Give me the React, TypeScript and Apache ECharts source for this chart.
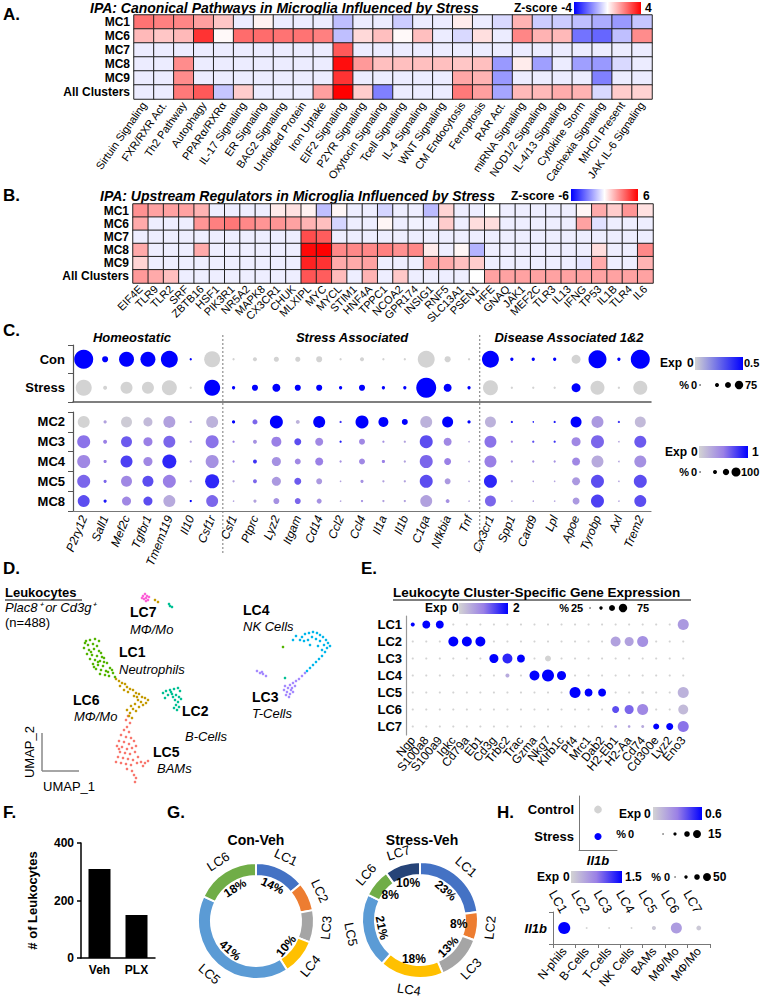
import React, { useEffect, useRef } from "react";
import * as echarts from "echarts";

const FF = 'Arial, "Liberation Sans", Helvetica, sans-serif';

// ---------------- Panel A : IPA canonical pathways (z-score) ----------------
const A_ROWS = ["MC1", "MC6", "MC7", "MC8", "MC9", "All Clusters"];
const A_PATHWAYS = [
  "Sirtuin Signaling", "FXR/RXR Act.", "Th2 Pathway", "Autophagy", "PPARα/RXRα", "IL-17 Signaling",
  "ER Signaling", "BAG2 Signaling", "Unfolded Protein", "Iron Uptake", "EIF2 Signaling", "P2YR Signaling",
  "Oxytocin Signaling", "Tcell Signaling", "IL-4 Signaling", "WNT Signaling", "CM Endocytosis", "Ferroptosis",
  "RAR Act.", "miRNA Signaling", "NOD1/2 Signaling", "IL-4/13 Signaling", "Cytokine Storm", "Cachexia Signaling",
  "MHCII Present", "JAK IL-6 Signaling",
];
const A_MC1 = [2.2, 2.0, 1.9, 1.5, 0.9, -0.3, 0.2, -0.3, -0.3, -0.3, -1.0, -0.3, -0.3, -0.8, -0.3, -0.3, 0.3, -0.3, -0.6, 1.2, -0.8, -0.8, -1.0, -1.3, -1.6, -0.9];
const A_MC6 = [1.1, 0.9, 1.1, 3.2, 0.1, 2.3, 2.3, 2.2, 2.2, 2.0, -1.0, 0.6, 1.0, 0.1, 1.0, -0.3, -0.6, 0.5, -0.3, 1.9, 1.2, 1.1, -2.2, -2.4, -1.0, 1.8];
const A_MC7 = [-0.3, -0.3, -0.3, -0.3, -0.3, -0.3, -0.3, -0.3, -0.3, -0.3, 2.6, -0.3, -0.3, -0.3, -0.3, -0.3, -0.3, -0.3, -0.3, -0.3, -0.3, -0.3, -0.3, -0.3, -0.3, -0.3];
const A_MC8 = [-0.3, -0.3, 1.8, -0.3, -0.3, -0.3, -0.3, -0.3, -0.3, -0.3, 3.8, 1.6, 1.0, 1.0, 1.0, 1.0, 0.9, 1.0, -1.6, 0.3, -1.5, -0.3, -1.5, -1.6, -0.6, -0.3];
const A_MC9 = [-0.3, -0.3, 1.8, -0.3, -0.3, -0.3, -0.3, -0.3, -0.3, -0.3, 3.2, -0.3, -0.3, -0.3, -0.3, -0.3, 1.4, 1.2, -1.6, -0.3, -0.3, -0.3, -0.3, -2.0, -0.3, -0.3];
const A_ALL = [-0.3, -0.3, 2.1, 2.6, -0.9, 0.8, -0.3, -0.3, -0.3, 1.5, 4.0, 0.8, -2.0, -0.3, -0.3, -0.3, 2.1, 1.5, -1.4, 1.1, 1.1, 1.3, 1.2, -0.6, 0.8, 0.7];

// ---------------- Panel B : IPA upstream regulators (z-score) ----------------
const B_ROWS = ["MC1", "MC6", "MC7", "MC8", "MC9", "All Clusters"];
const B_REGULATORS = [
  "EIF4E", "TLR9", "TLR2", "SRF", "ZBTB16", "HSF1", "PIK3R1", "NR5A2", "MAPK8", "CX3CR1", "CHUK", "MLXIPL",
  "MYC", "MYCL", "STIM1", "HNF4A", "TPPC1", "NCOA2", "GPR174", "INSIG1", "RNF5", "SLC13A1", "PSEN1", "HFE",
  "GNAQ", "JAK1", "MEF2C", "TLR3", "IL13", "IFNG", "TP53", "IL1B", "TLR4", "IL6",
];
const B_MC1 = [2.6, 2.2, 2.2, 2.2, 1.8, -0.4, -0.4, -0.4, -0.4, 0.5, 0.7, 0.3, -1.5, 0.2, -0.4, -0.4, -1.0, -0.4, -0.4, -1.6, 1.0, -0.4, -0.4, 0, -0.4, -0.4, -0.4, -0.4, -0.4, 0.2, 2.0, 1.2, 2.5, 0.7];
const B_MC6 = [2.0, -0.4, -0.4, -0.4, 2.5, 3.0, 3.2, 2.8, 2.5, 2.5, 2.2, 1.8, 1.5, -1.0, -0.4, -0.4, 0.2, -0.4, -0.3, -0.4, 1.2, -0.4, 0.8, 0.8, -0.4, -0.4, -0.4, -0.4, -0.4, 2.2, -0.7, -0.4, -0.4, -0.4];
const B_MC7 = [-0.4, -0.4, -0.4, -0.4, -0.4, -0.4, -0.4, -0.4, -0.4, -0.4, -0.4, 4.2, 3.8, -0.4, -0.4, -0.4, -0.4, -0.4, -0.4, -0.4, -0.4, -0.4, -0.4, -0.4, -0.4, -0.4, -0.4, -0.4, -0.4, -0.4, -0.4, -0.4, -0.4, -0.4];
const B_MC8 = [2.0, -0.4, -0.4, -0.4, 2.0, -0.4, -0.4, -0.4, -0.4, -0.4, -0.4, 5.8, 6.0, 2.8, 2.8, 2.8, 3.0, 2.6, 2.8, 0.5, -0.4, 0.2, -1.8, -0.4, -0.4, -0.4, -0.4, -0.4, -0.4, -0.4, 0.8, -0.4, -0.4, 2.8];
const B_MC9 = [1.0, -0.4, -0.4, -0.4, -0.4, -0.4, -0.4, -0.4, -0.4, -0.4, -0.4, 5.2, 4.8, 2.0, 2.0, 2.2, -0.4, -0.4, -0.4, 2.2, 2.0, 1.5, 1.2, -0.4, -0.4, -0.4, -0.4, -0.4, -0.4, -0.6, 2.0, -0.4, -0.4, 1.8];
const B_ALL = [2.4, 2.0, 1.5, -0.4, -0.4, -0.4, -0.4, -0.4, -0.4, -0.4, -0.4, 4.0, 3.8, 1.6, -0.4, 1.8, -0.4, 1.3, -0.4, -0.4, -0.4, -0.4, 0, 2.2, 2.2, 2.2, 2.2, 2.2, 2.2, 2.2, 2.2, 2.2, 2.2, 2.2];

// ---------------- Panel C : microglia dot plot ----------------
const C_GENES = [
  "P2ry12", "Sall1", "Mef2c", "Tgfbr1", "Tmem119", "Il10", "Csf1r", "Csf1", "Ptprc", "Lyz2", "Itgam", "Cd14", "Ccl2",
  "Ccl4", "Il1a", "Il1b", "C1qa", "Nfkbia", "Tnf", "Cx3cr1", "Spp1", "Card9", "Lpl", "Apoe", "Tyrobp", "Axl", "Trem2",
];
const C_GROUPS = ["Con", "Stress"];
const C_CON_PCT = [68, 7, 42, 42, 54, 1, 48, 1, 3, 5, 5, 7, 1, 3, 1, 1, 54, 7, 1, 54, 2, 2, 2, 15, 61, 2, 68];
const C_CON_EXP = [0.5, 0.5, 0.5, 0.5, 0.5, 0.5, 0, 0, 0, 0, 0, 0, 0, 0, 0, 0, 0, 0, 0, 0.5, 0.5, 0.5, 0.5, 0, 0.5, 0.5, 0.5];
const C_STRESS_PCT = [48, 3, 27, 27, 42, 1, 48, 2, 7, 12, 7, 7, 2, 7, 2, 2, 75, 12, 2, 42, 1, 1, 1, 15, 37, 1, 37];
const C_STRESS_EXP = [0, 0, 0, 0, 0, 0, 0.5, 0.5, 0.5, 0.5, 0.5, 0.5, 0.5, 0.5, 0.5, 0.5, 0.5, 0.5, 0.5, 0, 0, 0, 0, 0.5, 0, 0, 0];
const C_CLUSTERS = ["MC2", "MC3", "MC4", "MC5", "MC8"];
const C_MC2_PCT = [56, 4, 47, 32, 56, 2, 56, 4, 10, 66, 6, 56, 2, 66, 39, 14, 56, 47, 4, 47, 2, 1, 2, 47, 56, 2, 47];
const C_MC2_EXP = [0, 0.3, 0.05, 0.15, 0.3, 0.3, 0.2, 1, 0.6, 1, 0.2, 1, 0.8, 1, 1, 1, 0.2, 1, 1, 0.2, 0.9, 0.9, 0.9, 1, 0.35, 0.8, 0.15];
const C_MC3_PCT = [66, 6, 47, 32, 56, 2, 66, 2, 6, 39, 19, 25, 2, 14, 2, 2, 66, 25, 1, 56, 2, 2, 2, 32, 66, 1, 56];
const C_MC3_EXP = [0.55, 0.5, 0.65, 0.5, 0.6, 0.3, 0.55, 0.5, 0.4, 0.5, 0.7, 0.45, 0.9, 0.45, 0.4, 0.3, 0.7, 0.45, 0.3, 0.55, 0.5, 0.7, 0.8, 0.45, 0.6, 0.3, 0.65];
const C_MC4_PCT = [66, 4, 56, 32, 77, 2, 66, 2, 6, 32, 14, 25, 2, 14, 4, 2, 66, 19, 1, 56, 2, 2, 2, 25, 56, 1, 56];
const C_MC4_EXP = [0.45, 0.5, 0.75, 0.45, 0.85, 0.3, 0.4, 0.5, 0.8, 0.4, 0.45, 0.5, 0.4, 0.45, 0.5, 0.3, 0.6, 0.5, 0.3, 0.5, 0.4, 0.4, 0.4, 0.45, 0.25, 0.3, 0.4];
const C_MC5_PCT = [66, 4, 47, 47, 66, 2, 77, 2, 6, 32, 19, 14, 1, 4, 2, 2, 66, 14, 1, 66, 2, 1, 1, 25, 66, 1, 66];
const C_MC5_EXP = [0.6, 0.6, 0.45, 0.7, 0.5, 0.3, 0.85, 0.3, 0.6, 0.35, 0.65, 0.35, 0.3, 0.4, 0.3, 0.3, 0.7, 0.35, 0.3, 0.85, 0.3, 0.3, 0.3, 0.35, 0.7, 0.3, 0.7];
const C_MC8_PCT = [56, 4, 32, 32, 56, 2, 56, 1, 4, 14, 14, 10, 1, 2, 2, 2, 56, 6, 1, 47, 1, 1, 1, 19, 66, 1, 56];
const C_MC8_EXP = [0.7, 0.9, 0.45, 0.7, 0.25, 1, 0.6, 0.3, 0.3, 0.4, 0.6, 0.4, 0.3, 0.4, 0.3, 0.3, 0.3, 0.4, 0.3, 0.6, 0.3, 0.3, 0.3, 0.35, 0.75, 0.3, 0.7];

// ---------------- Panel D : UMAP (UMAP_1, UMAP_2) ----------------
const D_LC1 = [[8.6,15.4],[9.0,15.5],[9.5,15.6],[9.9,15.4],[8.8,15.0],[9.3,15.1],[9.7,14.9],[8.4,14.7],[8.9,14.5],[9.4,14.6],[9.9,14.4],[8.7,14.1],[9.2,14.0],[9.7,13.9],[10.1,14.2],[9.0,13.6],[9.5,13.5],[10.0,13.4],[10.4,13.7],[9.3,13.1],[9.8,13.0],[10.3,12.9],[10.7,13.2],[9.6,12.6],[10.1,12.5],[10.6,12.4],[11.0,12.7],[10.0,12.1],[10.5,12.0],[10.9,11.9],[11.3,12.2],[11.5,11.8],[8.5,15.2],[9.1,14.3],[10.2,13.8],[10.8,12.3],[11.2,12.5],[9.8,13.3],[9.4,12.8],[10.4,13.3],[28.3,14.8]];
const D_LC2 = [[16.3,10.2],[16.6,10.4],[17.0,10.5],[17.4,10.6],[17.8,10.7],[18.0,10.4],[16.8,10.0],[17.2,10.1],[17.6,10.0],[17.9,9.8],[16.5,9.7],[17.5,9.5],[17.8,9.3],[17.6,9.0],[17.9,8.8],[17.4,8.7],[17.7,8.5],[17.1,10.3],[18.1,9.6],[17.3,9.8],[17.0,18.9],[17.2,18.8],[16.9,19.1],[28.5,11.7]];
const D_LC3 = [[30.5,12.2],[30.2,11.9],[29.9,11.6],[29.6,11.4],[29.3,11.2],[29.0,11.0],[28.5,10.9],[28.8,10.7],[29.1,10.5],[28.7,10.3],[29.0,10.1],[29.3,10.3],[28.6,10.0],[28.9,9.8],[29.2,10.7],[29.5,10.9],[28.4,10.5],[25.7,12.4],[26.0,12.2],[26.3,12.1],[26.6,11.9],[26.2,12.3]];
const D_LC4 = [[30.2,15.8],[30.5,16.1],[30.9,16.2],[31.3,16.3],[31.7,16.2],[32.0,16.0],[32.3,15.8],[32.6,15.5],[32.8,15.2],[33.0,14.9],[32.7,14.7],[32.4,15.0],[32.0,15.4],[31.6,15.6],[31.2,15.8],[30.8,15.5],[30.4,15.4],[30.0,15.5],[31.0,15.0],[31.8,14.9],[32.2,14.5],[32.5,14.3],[32.2,13.9],[31.9,13.6],[31.6,13.3],[31.3,13.0],[31.0,12.7],[30.7,12.4],[29.3,15.5],[29.6,15.9]];
const D_LC5 = [[12.8,7.9],[12.6,7.5],[13.0,7.2],[12.7,6.8],[12.4,6.5],[12.9,6.3],[12.1,6.0],[12.6,5.8],[13.1,5.7],[11.9,5.4],[12.4,5.3],[12.9,5.1],[13.4,5.4],[11.7,4.9],[12.2,4.8],[12.7,4.6],[13.2,4.7],[13.6,4.9],[12.0,4.3],[12.5,4.2],[13.0,4.1],[13.5,4.3],[11.8,3.8],[12.3,3.7],[12.8,3.6],[13.3,3.5],[13.8,3.8],[11.6,3.3],[12.1,3.2],[12.6,3.1],[13.1,3.0],[14.1,3.3],[14.5,3.2],[14.8,3.4],[14.3,2.9],[12.7,2.6],[13.2,2.4],[13.4,2.0],[13.6,1.7],[13.5,1.3],[11.9,4.6],[13.7,3.2]];
const D_LC6 = [[11.6,11.6],[11.9,11.4],[12.2,11.2],[12.5,11.1],[12.0,10.9],[12.7,10.8],[13.0,10.6],[13.3,10.5],[12.8,10.3],[13.6,10.2],[13.9,10.1],[13.4,9.9],[14.2,9.8],[14.5,9.7],[14.8,9.5],[13.8,9.5],[14.1,9.3],[14.6,9.2],[13.5,9.1],[13.1,8.9],[13.9,8.8],[13.3,8.6],[13.6,8.4],[13.0,8.2],[12.9,7.9],[13.2,7.7],[12.4,10.5],[13.7,9.8],[14.3,9.0],[12.7,8.5],[15.5,19.5],[15.8,19.3]];
const D_LC7 = [[14.3,19.9],[14.5,20.1],[14.7,19.9],[14.4,19.6],[14.6,19.7],[14.8,19.5],[14.2,19.7],[14.9,19.8],[14.6,19.4]];

// ---------------- Panel E : leukocyte dot plot ----------------
const E_GENES = ["Ngp", "S100a8", "S100a9", "Igkc", "Cd79a", "Eb1", "Cd3g", "Trbc2", "Trac", "Gzma", "Nkg7", "Klrb1c", "Pf4", "Mrc1", "Dab2", "H2-Eb1", "H2-Aa", "Cd74", "Cd300e", "Lyz2", "Eno3"];
const E_CLUSTERS = ["LC1", "LC2", "LC3", "LC4", "LC5", "LC6", "LC7"];
const E_LC1_PCT = [7, 28, 28, 2, 2, 2, 2, 2, 2, 2, 2, 2, 2, 2, 2, 2, 2, 2, 2, 2, 54];
const E_LC1_EXP = [2, 2, 2, 0, 0, 0, 0, 0, 0, 0, 0, 0, 0, 0, 0, 0, 0, 0, 0, 0, 0.7];
const E_LC2_PCT = [2, 2, 2, 44, 44, 44, 2, 2, 2, 2, 2, 2, 2, 2, 2, 44, 36, 54, 2, 2, 2];
const E_LC2_EXP = [0, 0, 0, 2, 2, 2, 0, 0, 0, 0, 0, 0, 0, 0, 0, 0.6, 0.6, 0.8, 0, 0, 0];
const E_LC3_PCT = [2, 2, 2, 2, 2, 2, 36, 44, 28, 2, 16, 2, 2, 2, 2, 2, 2, 2, 2, 2, 2];
const E_LC3_EXP = [0, 0, 0, 0, 0, 0, 2, 1.7, 2, 0, 0, 0, 0, 0, 0, 0, 0, 0, 0, 0, 0];
const E_LC4_PCT = [2, 2, 2, 2, 2, 2, 2, 7, 2, 44, 64, 36, 2, 2, 2, 2, 2, 2, 2, 2, 2];
const E_LC4_EXP = [0, 0, 0, 0, 0, 0, 0, 0.5, 0, 2, 2, 2, 0, 0, 0, 0, 0, 0, 0, 0, 0];
const E_LC5_PCT = [2, 2, 2, 2, 2, 2, 2, 2, 2, 2, 2, 2, 54, 28, 28, 2, 2, 3, 2, 2, 54];
const E_LC5_EXP = [0, 0, 0, 0, 0, 0, 0, 0, 0, 0, 0, 0, 2, 2, 2, 0, 0, 0, 0, 0, 0.4];
const E_LC6_PCT = [2, 2, 2, 2, 2, 2, 2, 2, 2, 2, 2, 2, 2, 2, 2, 22, 36, 54, 2, 2, 44];
const E_LC6_EXP = [0, 0, 0, 0, 0, 0, 0, 0, 0, 0, 0, 0, 0, 0, 0, 1.4, 1.2, 0.9, 0, 0, 0.3];
const E_LC7_PCT = [2, 2, 2, 2, 2, 2, 2, 2, 2, 2, 2, 2, 2, 2, 2, 3, 3, 4, 16, 22, 54];
const E_LC7_EXP = [0, 0, 0, 0, 0, 0, 0, 0, 0, 0, 0, 0, 0, 0, 0, 0.6, 0.6, 0.5, 2, 2, 1.1];

// ---------------- Panel F : leukocyte counts ----------------
const F_GROUPS = ["Veh", "PLX"];
const F_COUNTS = [310, 150];

// ---------------- Panel G : cluster composition (%) ----------------
const G_CLUSTERS = ["LC1", "LC2", "LC3", "LC4", "LC5", "LC6", "LC7"];
const G_COLORS = ["#4472C4", "#ED7D31", "#A5A5A5", "#FFC000", "#5B9BD5", "#70AD47", "#264478"];
const G_CON = [14, 8, 9, 10, 41, 18, 0];
const G_CON_LABELS = ["14%", "", "", "10%", "41%", "18%", ""];
const G_STRESS = [23, 8, 13, 18, 21, 8, 10];
const G_STRESS_LABELS = ["23%", "8%", "13%", "18%", "21%", "8%", "10%"];

// ---------------- Panel H : Il1b ----------------
const H_GROUPS = ["Control", "Stress"];
const H_GROUP_PCT = [14, 12];
const H_GROUP_EXP = [0, 0.6];
const H_CLUSTERS = ["LC1", "LC2", "LC3", "LC4", "LC5", "LC6", "LC7"];
const H_CELLTYPES = ["N-phils", "B-Cells", "T-Cells", "NK Cells", "BAMs", "MΦ/Mo", "MΦ/Mo"];
const H_CL_PCT = [43, 1, 1, 1, 5, 36, 7];
const H_CL_EXP = [1.5, 0, 0, 0, 0.1, 0.5, 0.1];

// ---------------------------------------------------------------------------
const DOT_STOPS = ["#d3d3d3", "#9a80e6", "#0000ff"];
const dotColor = (v: number, max: number) =>
  echarts.color.lerp(Math.max(0, Math.min(1, v / max)), DOT_STOPS) as string;

const heatData = (rows: number[][]) => rows.flatMap((r, yi) => r.map((v, xi) => [xi, yi, v]));
const dotData = (rows: { pct: number[]; exp: number[] }[]) =>
  rows.flatMap((r, yi) => r.pct.map((p, xi) => [xi, yi, r.exp[xi], p]));

function txt(x: number, y: number, text: string, font: string, align = "left", rotation = 0, fill = "#000") {
  return {
    type: "text", x, y, rotation, silent: true,
    style: { text, font, fill, textAlign: align, textVerticalAlign: "middle", align, verticalAlign: "middle" },
  };
}
const f = (s: string) => `${s} ${FF}`;
const gradRect = (x: number, y: number, w: number, h: number, stops: string[]) => ({
  type: "rect", silent: true, shape: { x, y, width: w, height: h },
  style: {
    fill: new echarts.graphic.LinearGradient(0, 0, 1, 0, stops.map((c, i) => ({ offset: i / (stops.length - 1), color: c }))),
  },
});
const dot = (cx: number, cy: number, r: number) => ({ type: "circle", silent: true, shape: { cx, cy, r }, style: { fill: "#000" } });
const hline = (x1: number, y1: number, x2: number, y2: number, stroke = "#000", lw = 1, dash?: number[]) => ({
  type: "line", silent: true, shape: { x1, y1, x2, y2 }, style: { stroke, lineWidth: lw, lineDash: dash },
});

const catAxisBase = {
  type: "category",
  axisTick: { show: false },
  axisLine: { show: false },
  splitLine: { show: false },
};

export default function App() {
  const ref = useRef<HTMLDivElement>(null);
  useEffect(() => {
    if (!ref.current) return;
    const chart = echarts.init(ref.current, null, { renderer: "svg", width: 760, height: 999 });

    const gridBase = { containLabel: false, outerBoundsMode: "none" };
    const grids = [
      { ...gridBase, left: 134, top: 15, width: 518, height: 84 }, // 0 A
      { ...gridBase, left: 133, top: 204, width: 520, height: 79 }, // 1 B
      { ...gridBase, left: 73, top: 345, width: 578, height: 57 }, // 2 C top
      { ...gridBase, left: 73, top: 412, width: 578, height: 99 }, // 3 C bottom
      { ...gridBase, left: 0, top: 585, width: 340, height: 210 }, // 4 D
      { ...gridBase, left: 406, top: 616, width: 284, height: 119 }, // 5 E
      { ...gridBase, left: 81, top: 843, width: 74, height: 115 }, // 6 F
      { ...gridBase, left: 579, top: 796, width: 38, height: 54 }, // 7 H top
      { ...gridBase, left: 553, top: 912, width: 157, height: 32 }, // 8 H bottom
    ];

    const rowLab = (size = 12) => ({ interval: 0, color: "#000", fontWeight: "bold", fontSize: size, fontFamily: FF, margin: 4 });
    const grayLine = (c = "#666", w = 1.2) => ({ show: true, lineStyle: { color: c, width: w } });

    const xAxis: any[] = [
      { ...catAxisBase, gridIndex: 0, data: A_PATHWAYS, axisLabel: { interval: 0, rotate: 55, fontSize: 11, color: "#000", fontFamily: FF, margin: 4 } },
      { ...catAxisBase, gridIndex: 1, data: B_REGULATORS, axisLabel: { interval: 0, rotate: 45, fontSize: 11, color: "#000", fontFamily: FF, margin: 4 } },
      { ...catAxisBase, gridIndex: 2, data: C_GENES, axisLabel: { show: false }, axisLine: grayLine("#555", 1.5) },
      { ...catAxisBase, gridIndex: 3, data: C_GENES, axisLine: grayLine("#777", 1.2),
        axisLabel: { interval: 0, rotate: 68, fontSize: 12, fontStyle: "italic", color: "#000", fontFamily: FF, margin: 5 } },
      { type: "value", gridIndex: 4, min: 0, max: 34, show: false },
      { ...catAxisBase, gridIndex: 5, data: E_GENES, axisLabel: { interval: 0, rotate: 50, fontSize: 12, color: "#000", fontFamily: FF, margin: 3 } },
      { ...catAxisBase, gridIndex: 6, data: F_GROUPS, axisLine: { show: true, lineStyle: { color: "#000", width: 1.5 } },
        axisLabel: { fontWeight: "bold", fontSize: 12, color: "#000", fontFamily: FF, margin: 6 } },
      { ...catAxisBase, gridIndex: 7, data: ["Il1b"], axisLine: grayLine("#777", 1),
        axisLabel: { fontWeight: "bold", fontStyle: "italic", fontSize: 13, color: "#000", fontFamily: FF, margin: 4 } },
      { ...catAxisBase, gridIndex: 8, data: H_CELLTYPES, axisLine: grayLine("#777", 1), axisTick: { show: true, length: 4, lineStyle: { color: "#777" } },
        axisLabel: { interval: 0, rotate: 50, fontSize: 12, color: "#000", fontFamily: FF, margin: 5 } },
      { ...catAxisBase, gridIndex: 8, position: "top", data: H_CLUSTERS,
        axisLabel: { interval: 0, rotate: 60, fontSize: 13, color: "#000", fontFamily: FF, margin: 0 } },
    ];
    const yAxis: any[] = [
      { ...catAxisBase, gridIndex: 0, data: A_ROWS, inverse: true, axisLabel: rowLab(12) },
      { ...catAxisBase, gridIndex: 1, data: B_ROWS, inverse: true, axisLabel: rowLab(12) },
      { ...catAxisBase, gridIndex: 2, data: C_GROUPS, inverse: true, axisLine: grayLine("#555", 1.2),
        axisTick: { show: true, length: 5, lineStyle: { color: "#555" } }, axisLabel: { ...rowLab(13), margin: 8 } },
      { ...catAxisBase, gridIndex: 3, data: C_CLUSTERS, inverse: true, axisLine: grayLine("#555", 1.2),
        axisTick: { show: true, length: 5, lineStyle: { color: "#555" } }, axisLabel: { ...rowLab(13), margin: 8 } },
      { type: "value", gridIndex: 4, min: 0, max: 21, show: false },
      { ...catAxisBase, gridIndex: 5, data: E_CLUSTERS, inverse: true, axisLine: grayLine("#999", 1.2), axisLabel: { ...rowLab(13), margin: 4 } },
      { type: "value", gridIndex: 6, min: 0, max: 400, interval: 200, splitLine: { show: false },
        axisLine: { show: true, lineStyle: { color: "#000", width: 1.5 } }, axisTick: { show: true, length: 4, lineStyle: { color: "#000", width: 1.5 } },
        axisLabel: { fontWeight: "bold", fontSize: 12, color: "#000", fontFamily: FF, margin: 7 },
        name: "# of Leukocytes", nameLocation: "middle", nameGap: 42, nameRotate: 90,
        nameTextStyle: { fontWeight: "bold", fontSize: 13, color: "#000", fontFamily: FF } },
      { ...catAxisBase, gridIndex: 7, data: H_GROUPS, inverse: true, axisLine: grayLine("#777", 1), axisLabel: { ...rowLab(13), margin: 5 } },
      { ...catAxisBase, gridIndex: 8, data: ["Il1b"], axisLine: grayLine("#777", 1), axisTick: { show: true, length: 4, lineStyle: { color: "#777" } },
        axisLabel: { fontWeight: "bold", fontStyle: "italic", fontSize: 13, color: "#000", fontFamily: FF, margin: 6 } },
    ];

    const heatSeries = (xi: number, data: number[][]) => ({
      type: "heatmap", xAxisIndex: xi, yAxisIndex: xi, data, silent: true,
      itemStyle: { borderColor: "#222", borderWidth: 1 }, emphasis: { disabled: true },
    });
    const dotSeries = (xi: number, yi: number, data: number[][], sizeFn: (p: number) => number, max: number) => ({
      type: "scatter", xAxisIndex: xi, yAxisIndex: yi, data, silent: true, symbol: "circle",
      symbolSize: (v: number[]) => sizeFn(v[3]),
      itemStyle: { color: (p: any) => dotColor(p.value[2], max), opacity: 1 },
    });
    const sz = (maxD: number, maxP: number) => (p: number) => Math.max(1.5, maxD * Math.sqrt(p / maxP));

    const umap = (data: number[][], color: string) => ({
      type: "scatter", xAxisIndex: 4, yAxisIndex: 4, data, symbolSize: 2.6, silent: true, itemStyle: { color, opacity: 1 },
    });

    // label orientation per slice (style): true = tangential, false = horizontal
    const CON_ROT = [true, true, true, true, true, true, true];
    const STRESS_ROT = [true, false, true, false, true, false, false];

    const pieSet = (center: number[], values: number[], labels: string[], rot: boolean[]) => {
      const items = G_CLUSTERS.map((c, i) => ({ name: c, value: values[i], pctLabel: labels[i], color: G_COLORS[i], rot: rot[i] })).filter((d) => d.value > 0);
      const base = { type: "pie", center, startAngle: 90, clockwise: true, avoidLabelOverlap: false, silent: true, labelLine: { show: false }, emphasis: { disabled: true } };
      return [
        { ...base, radius: [45, 58], label: { show: false }, itemStyle: { borderColor: "#fff", borderWidth: 2 },
          data: items.map((d) => ({ name: d.name, value: d.value, itemStyle: { color: d.color } })) },
        { ...base, radius: [28, 44], itemStyle: { color: "rgba(0,0,0,0)" },
          label: { show: true, position: "inside", rotate: "tangential", fontWeight: "bold", fontSize: 12, color: "#000", fontFamily: FF,
            formatter: (p: any) => items[p.dataIndex].pctLabel },
          data: items.map((d) => ({ name: d.name, value: d.value, label: d.rot ? {} : { rotate: 0 } })) },
        { ...base, radius: [59, 76], itemStyle: { color: "rgba(0,0,0,0)" },
          label: { show: true, position: "inside", rotate: "tangential", fontSize: 13, color: "#000", fontFamily: FF, formatter: "{b}" },
          data: items.map((d) => ({ name: d.name, value: d.value })) },
      ];
    };

    const series: any[] = [
      heatSeries(0, heatData([A_MC1, A_MC6, A_MC7, A_MC8, A_MC9, A_ALL])),
      heatSeries(1, heatData([B_MC1, B_MC6, B_MC7, B_MC8, B_MC9, B_ALL])),
      dotSeries(2, 2, dotData([{ pct: C_CON_PCT, exp: C_CON_EXP }, { pct: C_STRESS_PCT, exp: C_STRESS_EXP }]), sz(20, 75), 0.5),
      dotSeries(3, 3, dotData([
        { pct: C_MC2_PCT, exp: C_MC2_EXP }, { pct: C_MC3_PCT, exp: C_MC3_EXP }, { pct: C_MC4_PCT, exp: C_MC4_EXP },
        { pct: C_MC5_PCT, exp: C_MC5_EXP }, { pct: C_MC8_PCT, exp: C_MC8_EXP },
      ]), sz(16, 100), 1),
      umap(D_LC5, "#F8766D"),
      umap(D_LC6, "#C49A00"),
      umap(D_LC1, "#53B400"),
      umap(D_LC2, "#00C094"),
      umap(D_LC4, "#00B6EB"),
      umap(D_LC3, "#A58AFF"),
      umap(D_LC7, "#FB61D7"),
      dotSeries(5, 5, dotData([
        { pct: E_LC1_PCT, exp: E_LC1_EXP }, { pct: E_LC2_PCT, exp: E_LC2_EXP }, { pct: E_LC3_PCT, exp: E_LC3_EXP },
        { pct: E_LC4_PCT, exp: E_LC4_EXP }, { pct: E_LC5_PCT, exp: E_LC5_EXP }, { pct: E_LC6_PCT, exp: E_LC6_EXP },
        { pct: E_LC7_PCT, exp: E_LC7_EXP },
      ]), sz(13, 75), 2),
      { type: "bar", xAxisIndex: 6, yAxisIndex: 6, data: F_COUNTS, barWidth: 22, itemStyle: { color: "#000" }, silent: true },
      dotSeries(7, 7, H_GROUPS.map((_, i) => [0, i, H_GROUP_EXP[i], H_GROUP_PCT[i]]), sz(8, 15), 0.6),
      dotSeries(8, 8, H_CLUSTERS.map((_, i) => [i, 0, H_CL_EXP[i], H_CL_PCT[i]]), sz(13, 50), 1.5),
      ...pieSet([256, 921], G_CON, G_CON_LABELS, CON_ROT),
      ...pieSet([420, 920], G_STRESS, G_STRESS_LABELS, STRESS_ROT),
    ];

    const HM = ["#0000ff", "#ffffff", "#ff0000"];
    const GR = DOT_STOPS;
    const b12 = f("bold 12px");
    const b11 = f("bold 11px");
    const graphicBase: any[] = [
      // Panel A
      txt(3, 14, "A.", f("bold 17px")),
      txt(90, 8, "IPA: Canonical Pathways in Microglia Influenced by Stress", f("italic bold 14px")),
      txt(514, 8, "Z-score", b12), txt(572, 8, "-4", b12, "right"), gradRect(574, 2, 67, 12, HM), txt(645, 8, "4", b12),
      // Panel B
      txt(3, 195, "B.", f("bold 17px")),
      txt(100, 196, "IPA: Upstream Regulators in Microglia Influenced by Stress", f("italic bold 14px")),
      txt(511, 196, "Z-score", b12), txt(569, 196, "-6", b12, "right"), gradRect(571, 189, 67, 12, HM), txt(643, 196, "6", b12),
      // Panel C
      txt(3, 330, "C.", f("bold 17px")),
      txt(132, 337, "Homeostatic", f("italic bold 13px"), "center"),
      txt(352, 337, "Stress Associated", f("italic bold 13px"), "center"),
      txt(569, 337, "Disease Associated 1&2", f("italic bold 13px"), "center"),
      txt(660, 363, "Exp", b12), txt(687, 363, "0", b12), gradRect(695, 357, 48, 13, ["#d3d3d3", "#0000ff"]), txt(744, 363, "0.5", b11),
      txt(689, 385, "%", b11, "right"), txt(691, 385, "0", b11), dot(700, 385, 0.7), dot(717, 385, 2), dot(728, 385, 3), dot(739, 385, 4.2), txt(745, 385, "75", b11),
      txt(665, 452, "Exp", b12), txt(691, 452, "0", b12), gradRect(699, 446, 49, 12, GR), txt(752, 452, "1", b12),
      txt(689, 472, "%", b11, "right"), txt(691, 472, "0", b11), dot(700, 472, 0.7), dot(715, 472, 2), dot(726, 472, 3.2), dot(736, 472, 4.5), txt(741, 472, "100", b11),
      // Panel D
      txt(3, 568, "D.", f("bold 17px")),
      txt(5, 592, "Leukocytes", f("bold 13px")), hline(5, 600, 82, 600, "#000", 1),
      txt(5, 607, "Plac8⁺ or Cd3g⁺", f("italic 13px")),
      txt(5, 622, "(n=488)", f("13px")),
      txt(130, 612, "LC7", f("bold 14px")), txt(130, 629, "MΦ/Mo", f("italic 13px")),
      txt(119, 652, "LC1", f("bold 14px")), txt(119, 669, "Neutrophils", f("italic 13px")),
      txt(73, 700, "LC6", f("bold 14px")), txt(74, 716, "MΦ/Mo", f("italic 13px")),
      txt(182, 711, "LC2", f("bold 14px")), txt(185, 736, "B-Cells", f("italic 13px")),
      txt(153, 752, "LC5", f("bold 14px")), txt(157, 768, "BAMs", f("italic 13px")),
      txt(243, 610, "LC4", f("bold 14px")), txt(243, 626, "NK Cells", f("italic 13px")),
      txt(252, 697, "LC3", f("bold 14px")), txt(252, 713, "T-Cells", f("italic 13px")),
      hline(42, 733, 42, 771, "#888", 1.5), hline(42, 771, 79, 771, "#888", 1.5),
      txt(29, 752, "UMAP_2", f("13px"), "center", Math.PI / 2),
      txt(43, 786, "UMAP_1", f("13px")),
      // Panel E
      txt(361, 568, "E.", f("bold 17px")),
      txt(393, 592, "Leukocyte Cluster-Specific Gene Expression", f("bold 13.5px")), hline(393, 600, 691, 600, "#000", 1),
      txt(425, 608, "Exp", b12), txt(452, 608, "0", b12), gradRect(459, 603, 49, 11, GR), txt(513, 608, "2", b12),
      txt(569, 608, "%", b11, "right"), txt(571, 608, "25", b11), dot(590, 608, 0.6), dot(601, 608, 1.7), dot(612, 608, 3), dot(623, 608, 4.2), txt(637, 608, "75", b11),
      // Panel F, G, H
      txt(3, 812, "F.", f("bold 17px")),
      txt(167, 812, "G.", f("bold 17px")),
      txt(256, 840, "Con-Veh", f("bold 14px"), "center"),
      txt(422, 840, "Stress-Veh", f("bold 14px"), "center"),
      txt(497, 812, "H.", f("bold 17px")),
      txt(619, 814, "Exp", b12), txt(644, 814, "0", b12), gradRect(653, 807, 49, 13, GR), txt(705, 814, "0.6", b12),
      txt(626, 834, "%", b11, "right"), txt(628, 834, "0", b11), dot(663, 834, 0.6), dot(675, 834, 1.6), dot(687, 834, 2.8), dot(697, 834, 4), txt(708, 834, "15", b12),
      txt(537, 877, "Exp", b12), txt(563, 877, "0", b12), gradRect(571, 871, 51, 12, GR), txt(625, 877, "1.5", b12),
      txt(661, 877, "%", b11, "right"), txt(664, 877, "0", b11), dot(675, 877, 0.6), dot(686, 877, 1.7), dot(697, 877, 2.8), dot(707, 877, 4), txt(713, 877, "50", b12),
    ];

    chart.setOption({
      animation: false,
      textStyle: { fontFamily: FF },
      grid: grids,
      xAxis,
      yAxis,
      visualMap: [
        { type: "continuous", show: false, seriesIndex: 0, min: -4, max: 4, dimension: 2, inRange: { color: HM } },
        { type: "continuous", show: false, seriesIndex: 1, min: -6, max: 6, dimension: 2, inRange: { color: HM } },
      ],
      series,
      graphic: { elements: graphicBase },
    });

    // dashed separators in panel C, placed between categories through the axis scale
    const px = (i: number) => chart.convertToPixel({ xAxisIndex: 3 } as any, i) as unknown as number;
    const sep1 = (px(6) + px(7)) / 2;
    const sep2 = (px(18) + px(19)) / 2;
    chart.setOption({
      graphic: {
        elements: [
          ...graphicBase,
          hline(sep1, 335, sep1, 555, "#777", 1, [2, 2]),
          hline(sep2, 335, sep2, 555, "#777", 1, [2, 2]),
        ],
      },
    });

    return () => chart.dispose();
  }, []);

  return <div ref={ref} style={{ position: "absolute", left: 0, top: 0, width: 760, height: 999, background: "#fff" }} />;
}
